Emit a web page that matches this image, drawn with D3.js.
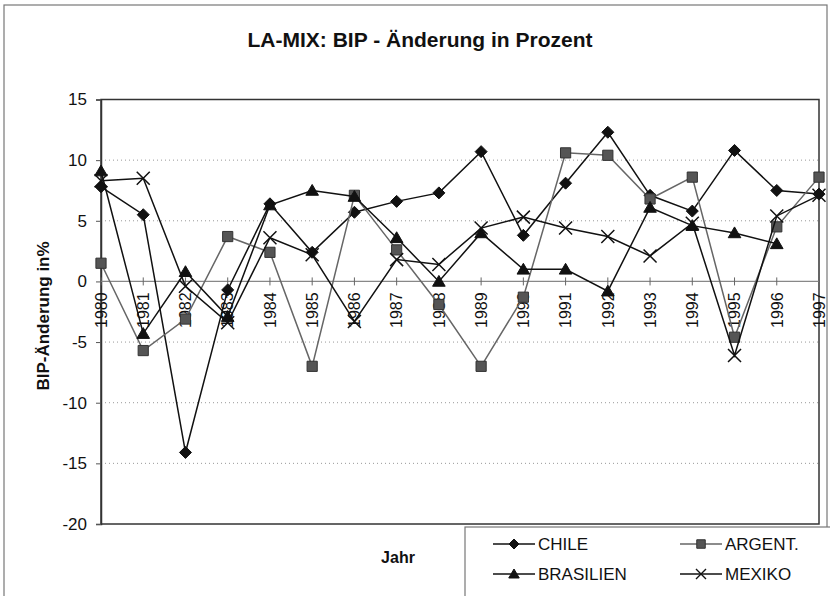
<!DOCTYPE html>
<html>
<head>
<meta charset="utf-8">
<script src="https://cdn.jsdelivr.net/npm/d3@7"></script>
<style>
  body { margin:0; background:#fff; }
  text { font-family: Arial, "Liberation Sans", sans-serif; fill:#111; }
</style>
</head>
<body>
<div id="chart"></div>
<script>
// data
var years = [1980,1981,1982,1983,1984,1985,1986,1987,1988,1989,1990,1991,1992,1993,1994,1995,1996,1997];
var chile  = [7.8, 5.5, -14.1, -0.7, 6.4, 2.4, 5.7, 6.6, 7.3, 10.7, 3.8, 8.1, 12.3, 7.1, 5.8, 10.8, 7.5, 7.2];
var argent = [1.5, -5.7, -3.1, 3.7, 2.4, -7.0, 7.1, 2.6, -1.9, -7.0, -1.3, 10.6, 10.4, 6.8, 8.6, -4.6, 4.5, 8.6];
var brasil = [9.1, -4.3, 0.8, -2.9, 6.3, 7.5, 7.0, 3.6, 0.0, 4.0, 1.0, 1.0, -0.8, 6.1, 4.6, 4.0, 3.1, null];
var mexiko = [8.3, 8.5, -0.4, -3.4, 3.6, 2.2, -3.3, 1.8, 1.4, 4.4, 5.3, 4.4, 3.7, 2.1, 4.8, -6.1, 5.4, 7.1];
var yTicks = [15, 10, 5, 0, -5, -10, -15, -20];

var series = [
  {name:'CHILE', values:chile, marker:'diamond', line:'#111', fill:'#111'},
  {name:'ARGENT.', values:argent, marker:'square', line:'#666', fill:'#555'},
  {name:'BRASILIEN', values:brasil, marker:'triangle', line:'#111', fill:'#111'},
  {name:'MEXIKO', values:mexiko, marker:'cross', line:'#111', fill:'none'}
];

var svgWidth = 830, svgHeight = 596;
var plot = {left:101, right:819, top:99.5, bottom:524};

var svg = d3.select('#chart').append('svg')
  .attr('width', svgWidth)
  .attr('height', svgHeight);

// outer frame
svg.append('rect')
  .attr('x', 4).attr('y', 5)
  .attr('width', 823).attr('height', 640)
  .attr('fill', 'none').attr('stroke', '#777').attr('stroke-width', 1.2);

var xScale = d3.scalePoint().domain(years).range([plot.left, plot.right]);
var yScale = d3.scaleLinear().domain([-20, 15]).range([plot.bottom, plot.top]);

// gridlines
svg.append('g').selectAll('line')
  .data(yTicks.filter(d => d !== 0 && d !== 15 && d !== -20))
  .enter().append('line')
  .attr('x1', plot.left).attr('x2', plot.right)
  .attr('y1', d => yScale(d)).attr('y2', d => yScale(d))
  .attr('stroke', '#999').attr('stroke-dasharray', '1,3');

// plot border
svg.append('rect')
  .attr('x', plot.left).attr('y', plot.top)
  .attr('width', plot.right - plot.left).attr('height', plot.bottom - plot.top)
  .attr('fill', 'none').attr('stroke', '#333').attr('stroke-width', 1.5);

// y axis (plain hyphen for negatives, like the original)
var yAxis = svg.append('g')
  .attr('transform', `translate(${plot.left},0)`)
  .call(d3.axisLeft(yScale).tickValues(yTicks).tickSize(5).tickPadding(9)
    .tickFormat(d => String(d)));
yAxis.select('.domain').attr('stroke', '#333').attr('stroke-width', 1.5);
yAxis.selectAll('line').attr('stroke', '#555');
yAxis.selectAll('text').style('font-size', '17px').attr('fill', '#111');

// zero line with x ticks
var y0 = yScale(0);
svg.append('line')
  .attr('x1', plot.left).attr('x2', plot.right)
  .attr('y1', y0).attr('y2', y0)
  .attr('stroke', '#888').attr('stroke-width', 1.2);

var xAxis = svg.append('g').attr('transform', `translate(0,${y0})`);
xAxis.selectAll('line.tick')
  .data(years).enter().append('line')
  .attr('class', 'tick')
  .attr('x1', d => xScale(d)).attr('x2', d => xScale(d))
  .attr('y1', -4).attr('y2', 4)
  .attr('stroke', '#666');
xAxis.selectAll('text')
  .data(years).enter().append('text')
  .attr('transform', d => `translate(${xScale(d)},11)rotate(-90)`)
  .attr('dy', '0.36em')
  .attr('text-anchor', 'end')
  .style('font-size', '16px')
  .text(d => d);

// lines and markers
var markerPath = function(type, s) {
  if (type === 'diamond') return `M0,${-s}L${s},0L0,${s}L${-s},0Z`;
  if (type === 'square') return `M${-s*0.85},${-s*0.85}h${s*1.7}v${s*1.7}h${-s*1.7}Z`;
  if (type === 'triangle') return `M0,${-s}L${s*1.05},${s*0.8}L${-s*1.05},${s*0.8}Z`;
  return `M${-s},${-s}L${s},${s}M${-s},${s}L${s},${-s}`;
};

var line = d3.line()
  .defined(d => d.v !== null)
  .x(d => xScale(d.year))
  .y(d => yScale(d.v));

series.forEach(s => {
  var pts = years.map((y, i) => ({year:y, v:s.values[i]}));
  svg.append('path')
    .datum(pts)
    .attr('d', line)
    .attr('fill', 'none')
    .attr('stroke', s.line)
    .attr('stroke-width', 1.5);
  svg.append('g').selectAll('path')
    .data(pts.filter(d => d.v !== null))
    .enter().append('path')
    .attr('transform', d => `translate(${xScale(d.year)},${yScale(d.v)})`)
    .attr('d', markerPath(s.marker, s.marker === 'cross' ? 6.5 : 6))
    .attr('fill', s.fill)
    .attr('stroke', s.marker === 'square' ? '#333' : '#111')
    .attr('stroke-width', s.marker === 'cross' ? 1.5 : 1);
});

// titles
svg.append('text')
  .attr('x', 420).attr('y', 47)
  .attr('text-anchor', 'middle')
  .style('font-size', '21px').style('font-weight', 'bold')
  .text('LA-MIX: BIP - Änderung in Prozent');

svg.append('text')
  .attr('transform', 'translate(49,316)rotate(-90)')
  .attr('text-anchor', 'middle')
  .style('font-size', '17px').style('font-weight', 'bold')
  .text('BIP-Änderung in%');

svg.append('text')
  .attr('x', 398).attr('y', 563)
  .attr('text-anchor', 'middle')
  .style('font-size', '16px').style('font-weight', 'bold')
  .text('Jahr');

// legend box
var legend = svg.append('g');
legend.append('rect')
  .attr('x', 465).attr('y', 527)
  .attr('width', 400).attr('height', 100)
  .attr('fill', '#fff').attr('stroke', '#777').attr('stroke-width', 1.2);

var legendPos = [[493, 550], [680, 550], [493, 580], [680, 580]];
series.forEach((s, i) => {
  var p = legendPos[i];
  var g = legend.append('g').attr('transform', `translate(${p[0]},${p[1] - 6})`);
  g.append('line').attr('x1', 0).attr('x2', 42)
    .attr('stroke', s.line).attr('stroke-width', 1.4);
  g.append('path')
    .attr('transform', 'translate(21,0)')
    .attr('d', markerPath(s.marker, 5))
    .attr('fill', s.fill)
    .attr('stroke', s.marker === 'square' ? '#333' : '#111')
    .attr('stroke-width', s.marker === 'cross' ? 1.4 : 1);
  g.append('text')
    .attr('x', 45).attr('y', 6)
    .style('font-size', '17px')
    .text(s.name);
});
</script>
</body>
</html>
